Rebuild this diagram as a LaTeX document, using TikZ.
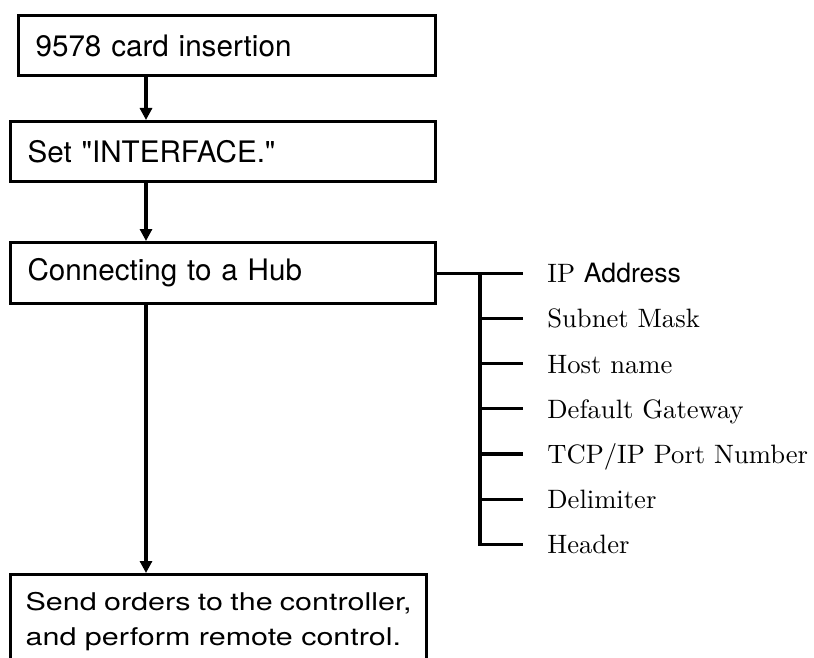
\documentclass[tikz,border=0pt]{standalone}
\usepackage{fontspec}
\usepackage{tikz}
\usetikzlibrary{arrows.meta,positioning}
\newfontfamily\helv[Ligatures=TeXOff]{TeX Gyre Heros}
\newfontfamily\helvwide[Ligatures=TeXOff,FakeStretch=1.25]{TeX Gyre Heros}
\newfontfamily\lmten{lmroman10-regular.otf}
\tikzset{
  stepbox/.style={rectangle, draw, line width=1.6pt, anchor=north west, align=left,
                  font=\helv\fontsize{14.8}{17}\selectfont, inner xsep=8.5pt, inner ysep=0pt},
  leaf/.style={font=\lmten\fontsize{13.3}{15}\selectfont, inner sep=0pt, text height=9.5pt, text depth=0pt},
  arr/.style={-{Triangle[length=6pt,width=6pt]}, line width=1.6pt},
  branch/.style={line width=1.6pt},
}

\begin{document}
\begin{tikzpicture}[x=0.5pt, y=-0.5pt]
  \useasboundingbox (0,0) rectangle (814,658);
  \clip (0,0) rectangle (814,658);
  \node[stepbox, text width=191.5pt, minimum height=30pt] (card) at (17,14) {9578 card insertion};
  \node[stepbox, text width=195.5pt, minimum height=30pt] (iface) at (9,120) {Set "INTERFACE."};
  \node[stepbox, text width=195.5pt, minimum height=30.5pt] (hub) at (9,241) {Connecting to a Hub};
  \node[stepbox, inner xsep=7.5pt, inner ysep=9pt] (send) at (9,573)
    {\parbox[c][70pt][t]{193pt}{\helvwide\fontsize{12.2}{17.5}\selectfont Send orders to the controller,\\and perform remote control.}};
  \coordinate (col) at (146,0);
  \draw[arr] (col |- card.south) -- (col |- iface.north);
  \draw[arr] (col |- iface.south) -- (col |- hub.north);
  \draw[arr] (col |- hub.south) -- (col |- send.north);
  \coordinate (tx) at (480,0);
  \coordinate (trunk) at (tx |- hub.east);
  \foreach \lbl [count=\i] in {{IP \helv Address}, Subnet Mask, Host name, Default Gateway,
                               TCP/IP Port Number, Delimiter, Header} {
    \path (trunk) ++(43,{45.2*(\i-1)}) coordinate (b\i);
    \node[leaf, right=12pt of b\i] (l\i) {\lbl};
  }
  \draw[branch] (hub.east) -- (b1);
  \draw[branch] (trunk) |- (b7);
  \foreach \i in {2,...,6} \draw[branch] (trunk |- b\i) -- (b\i);
\end{tikzpicture}
\end{document}
